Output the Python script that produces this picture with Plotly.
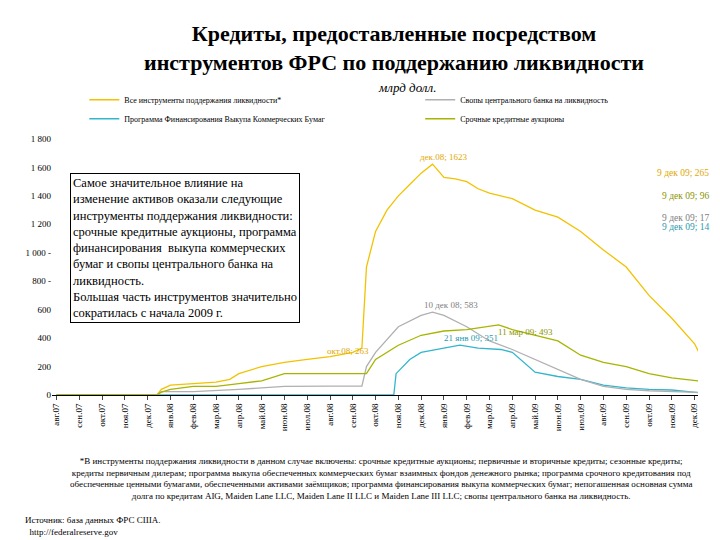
import plotly.graph_objects as go

months = ["авг.07","сен.07","окт.07","ноя.07","дек.07","янв.08","фев.08","мар.08","апр.08","май.08",
          "июн.08","июл.08","авг.08","сен.08","окт.08","ноя.08","дек.08","янв.09","фев.09","мар.09",
          "апр.09","май.09","июн.09","июл.09","авг.09","сен.09","окт.09","ноя.09","дек.09"]

t_total = [0, 4.4, 4.6, 5.0, 6.0, 7.0, 7.6, 8.0, 9.0, 10.0, 11.0, 12.0, 13.0, 13.4, 13.6, 14.0, 14.5, 15.0, 15.5, 16.0,
           16.5, 17.0, 17.5, 18.0, 18.5, 19.0, 20.0, 21.0, 22.0, 23.0, 24.0, 25.0, 26.0, 27.0, 28.0, 28.3]
v_total = [0, 0, 40, 70, 80, 90, 110, 150, 200, 230, 250, 270, 300, 330, 900, 1150, 1300, 1400, 1480, 1560,
           1623, 1530, 1520, 1500, 1450, 1420, 1380, 1300, 1250, 1150, 1020, 900, 700, 540, 360, 265]

t_swap = [0, 4.4, 4.6, 6.0, 8.0, 10.0, 12.0, 13.4, 13.6, 14.0, 15.0, 16.0, 16.5, 17.0, 18.0, 19.0, 20.0, 21.0, 22.0, 23.0, 24.0, 25.0, 26.0, 27.0, 28.3]
v_swap = [0, 0, 24, 24, 40, 60, 62, 62, 200, 300, 480, 560, 583, 560, 480, 380, 320, 250, 180, 110, 60, 40, 30, 25, 17]

t_cpff = [0, 14.8, 14.9, 15.5, 16.0, 17.0, 17.7, 18.5, 19.5, 20.0, 21.0, 22.0, 23.0, 24.0, 25.0, 26.0, 27.0, 28.3]
v_cpff = [0, 0, 150, 250, 300, 330, 351, 330, 320, 300, 160, 130, 110, 70, 50, 40, 35, 14]

t_taf = [0, 4.4, 4.6, 5.0, 6.0, 7.0, 8.0, 9.0, 10.0, 11.0, 12.0, 13.0, 13.6, 14.0, 15.0, 16.0, 17.0, 18.0, 19.4, 20.0, 21.0, 22.0, 23.0, 24.0, 25.0, 26.0, 27.0, 28.3]
v_taf = [0, 0, 20, 40, 60, 60, 80, 100, 150, 150, 150, 150, 150, 250, 350, 420, 450, 460, 493, 460, 420, 380, 280, 230, 200, 150, 120, 96]

fig = go.Figure()
fig.add_trace(go.Scatter(x=t_total, y=v_total, mode="lines", line=dict(color="#F2C200", width=1.3),
                         name="Все инструменты поддержания ликвидности*", legend="legend"))
fig.add_trace(go.Scatter(x=t_cpff, y=v_cpff, mode="lines", line=dict(color="#33B5CC", width=1.3),
                         name="Программа Финансирования Выкупа Коммерческих Бумаг", legend="legend"))
fig.add_trace(go.Scatter(x=t_swap, y=v_swap, mode="lines", line=dict(color="#B0B0B0", width=1.3),
                         name="Свопы центрального банка на ликвидность", legend="legend2"))
fig.add_trace(go.Scatter(x=t_taf, y=v_taf, mode="lines", line=dict(color="#A8B400", width=1.3),
                         name="Срочные кредитные аукционы", legend="legend2"))

F = "Liberation Serif"
leg = dict(yanchor="top", xanchor="left", y=1.21, font=dict(size=8, family=F), tracegroupgap=0,
           bgcolor="rgba(0,0,0,0)", itemwidth=30)
fig.update_layout(
    width=720, height=540, paper_bgcolor="white", plot_bgcolor="white",
    margin=dict(l=44, r=30, t=131, b=153),
    font=dict(family=F, size=9, color="black"),
    showlegend=True,
    legend=dict(leg, x=0.05),
    legend2=dict(leg, x=0.57),
    xaxis=dict(range=[-0.2, 28.15], tickvals=list(range(len(months))), ticktext=months,
               tickangle=-90, showgrid=False, showline=True, linecolor="black", ticks="outside",
               ticklen=4, tickfont=dict(size=9)),
    yaxis=dict(range=[0, 1800], tickvals=[0, 200, 400, 600, 800, 1000, 1200, 1400, 1600, 1800],
               ticktext=["0", "200", "400", "600", "800 -", "1 000 -", "1 200", "1 400", "1 600", "1 800"],
               showgrid=False, showline=False, tickfont=dict(size=9)),
)

anns = [
    dict(x=0.53, y=1.47, xref="paper", yref="paper", yanchor="top", xanchor="center",
         text="<b>Кредиты, предоставленные посредством<br>инструментов ФРС по поддержанию ликвидности</b>",
         font=dict(size=22, family=F), showarrow=False),
    dict(x=0.55, y=1.2, xref="paper", yref="paper", yanchor="middle",
         text="<i>млрд долл.</i>", font=dict(size=13, family=F), showarrow=False),
    dict(x=0.028, y=0.867, xref="paper", yref="paper", xanchor="left", yanchor="top", align="left",
         text="Самое значительное влияние на<br>изменение активов оказали следующие<br>инструменты поддержания ликвидности:<br>"
              "срочные кредитные аукционы, программа<br>финансирования  выкупа коммерческих<br>бумаг и свопы центрального банка на<br>"
              "ликвидность.<br>Большая часть инструментов значительно<br>сократилась с начала 2009 г.",
         font=dict(size=12.5, family=F), showarrow=False, bgcolor="white", bordercolor="black", borderwidth=1, borderpad=2),
    dict(x=17.0, y=1623, text="дек.08; 1623", font=dict(size=9, color="#E0A800"), showarrow=False, xanchor="center", yanchor="bottom"),
    dict(x=12.8, y=263, text="окт.08; 263", font=dict(size=9, color="#E0A800"), showarrow=False, xanchor="center", yanchor="bottom"),
    dict(x=17.3, y=583, text="10 дек 08; 583", font=dict(size=9, color="#808080"), showarrow=False, xanchor="center", yanchor="bottom"),
    dict(x=20.6, y=493, text="11 мар 09; 493", font=dict(size=9, color="#8A9400"), showarrow=False, xanchor="center", yanchor="top"),
    dict(x=18.2, y=351, text="21 янв 09; 351", font=dict(size=9, color="#2A9AAE"), showarrow=False, xanchor="center", yanchor="bottom"),
]
for txt, yv, c in [("9 дек 09; 265", 0.895, "#E0A800"), ("9 дек 09; 96", 0.805, "#8A9400"),
                   ("9 дек 09; 17", 0.72, "#808080"), ("9 дек 09; 14", 0.655, "#2A9AAE")]:
    anns.append(dict(x=1.02, y=yv, xref="paper", yref="paper", text=txt, font=dict(size=9.5, color=c),
                     showarrow=False, xanchor="right"))
anns.append(dict(x=0.51, y=-0.23, xref="paper", yref="paper", yanchor="top",
                 text="*В инструменты поддержания ликвидности в данном случае включены: срочные кредитные аукционы; первичные и вторичные кредиты; сезонные кредиты;<br>"
                      "кредиты первичным дилерам; программа выкупа обеспеченных коммерческих бумаг взаимных фондов денежного рынка; программа срочного кредитования под<br>"
                      "обеспеченные ценными бумагами, обеспеченными активами заёмщиков; программа финансирования выкупа коммерческих бумаг; непогашенная основная сумма<br>"
                      "долга по кредитам AIG, Maiden Lane LLC, Maiden Lane II LLC и Maiden Lane III LLC; свопы центрального банка на ликвидность.",
                 font=dict(size=9, family=F), showarrow=False))
anns.append(dict(x=-0.045, y=-0.46, xref="paper", yref="paper", xanchor="left", yanchor="top", align="left",
                 text="Источник: база данных ФРС США.<br>  http://federalreserve.gov", font=dict(size=9, family=F), showarrow=False))
fig.update_layout(annotations=anns)
fig.write_html("out.html")
